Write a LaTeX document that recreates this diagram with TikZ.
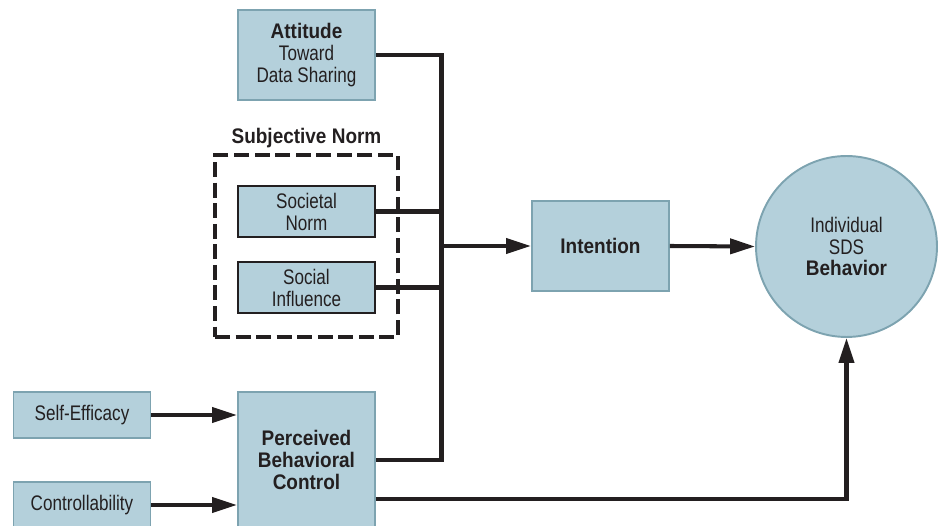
\documentclass[tikz,border=0pt]{standalone}
\usepackage{fontspec}
\setmainfont{Liberation Sans}[FakeStretch=0.81,BoldFeatures={FakeStretch=0.9}]
\usepackage{tikz}
\usetikzlibrary{arrows.meta,calc,positioning}
\definecolor{Boxfill}{RGB}{180,208,219}
\definecolor{Boxline}{RGB}{125,163,176}
\definecolor{Ink}{RGB}{35,31,32}

\begin{document}
\begin{tikzpicture}[x=0.02cm,y=-0.02cm,
    box/.style={draw=Boxline,line width=1.1pt,fill=Boxfill,text=Ink,align=center,inner sep=1pt,minimum width=2.74cm,font=\fontsize{12}{12.5}\selectfont},
    normbox/.style={box,draw=Ink,minimum height=1.02cm},
    frame/.style={draw=Ink,line width=2.8pt,dash pattern=on 8.5pt off 3.2pt,minimum width=3.66cm,minimum height=3.64cm},
    link/.style={draw=Ink,line width=2.3pt},
    arr/.style={link,-{Triangle[length=0.5cm,width=0.3cm]}}]
    \clip (0,0) rectangle (943,526);
    \node[box,minimum height=1.8cm] (attitude) at (306.5,55) {\textbf{Attitude}\\Toward\\Data Sharing};
    \node[frame] (subjframe) at (306.5,246) {};
    \node[text=Ink,font=\bfseries\fontsize{12}{12.5}\selectfont] (subjlabel) at (306.5,138) {Subjective Norm};
    \node[normbox] (societal) at (306.5,211.5) {Societal\\Norm};
    \node[normbox] (social) at (306.5,287.5) {Social\\Influence};
    \node[box,minimum height=2.72cm] (pbc) at (306.5,460) {\textbf{Perceived}\\\textbf{Behavioral}\\\textbf{Control}};
    \node[box,minimum height=0.92cm] (selfeff) at (82,415) {Self-Efficacy};
    \node[box,minimum height=0.92cm] (control) at (82,505) {Controllability};
    \node[box,minimum height=1.8cm] (intention) at (600.5,246) {\textbf{Intention}};
    \node[box,circle,minimum size=3.62cm,inner sep=0pt] (behavior) at (846.5,246.5) {Individual\\SDS\\\textbf{Behavior}};
    \coordinate (bus) at (441.5,246);
    \draw[link] (attitude.east) -| (bus) |- (pbc.east);
    \draw[link] (societal.east) -- (societal.east -| bus);
    \draw[link] (social.east) -- (social.east -| bus);
    \draw[arr] (bus) -- (intention.west);
    \draw[arr] (intention.east) -- (behavior.west);
    \draw[arr] (selfeff.east) -- (selfeff.east -| pbc.west);
    \draw[arr] (control.east) -- (control.east -| pbc.west);
    \draw[arr] ($(pbc.east)+(0,39)$) -| (behavior.south);
\end{tikzpicture}
\end{document}
